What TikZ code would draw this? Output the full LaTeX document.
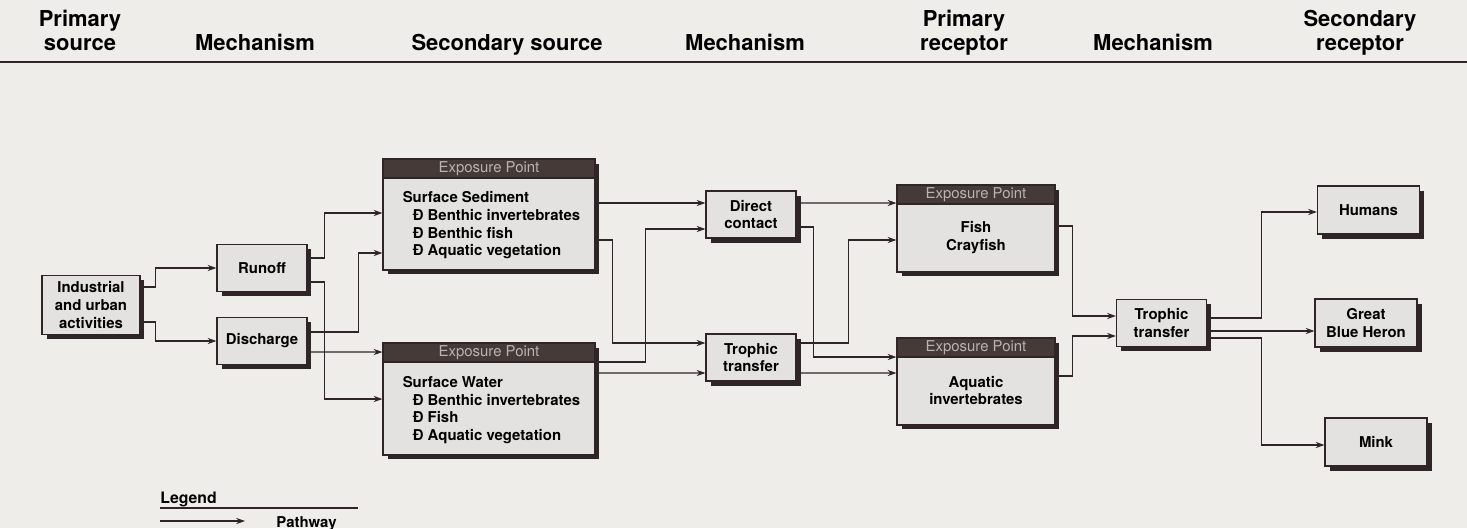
\documentclass[tikz,border=0pt]{standalone}
\usepackage{fontspec}
\setmainfont{TeX Gyre Heros}
\usetikzlibrary{arrows.meta}
\usetikzlibrary{shadows}
\definecolor{ink}{HTML}{2F2427}
\definecolor{paper}{HTML}{EFEDEA}
\definecolor{boxfill}{HTML}{E4E2E0}
\definecolor{band}{HTML}{463A39}
\definecolor{bandtext}{HTML}{B9B3B1}
\newcommand\boxfont[0]{\fontsize{8.5}{10}\selectfont\bfseries}

\begin{document}
\begin{tikzpicture}[x=0.02cm,y=-0.02cm,
  every node/.style={inner sep=0pt},
  colhead/.style={font=\fontsize{12.5}{13.6}\selectfont\bfseries, align=center, anchor=base},
  box/.style={draw=ink, line width=0.7pt, fill=boxfill, font=\boxfont, align=center,
    drop shadow={shadow xshift=0.09cm, shadow yshift=-0.09cm, fill=ink, opacity=1}},
  smallbox/.style={box, minimum width=1.8cm, minimum height=0.94cm},
  recbox/.style={box, minimum width=2.04cm, minimum height=0.96cm},
  bandbox/.style={draw=ink, line width=0.7pt, fill=band, text=bandtext, anchor=north,
    minimum height=0.38cm, font=\fontsize{8.5}{10}\selectfont},
  pathway/.style={draw=ink, line width=0.6pt, -{Stealth[length=5pt,width=3.5pt]}}]

\fill[paper] (0,0) rectangle (1467,528);
\useasboundingbox (0,0) rectangle (1467,528);

% column heads
\node[colhead] (h1) at (80,50) {Primary\\source};
\node[colhead] (h2) at (255,50) {Mechanism};
\node[colhead] (h3) at (507,50) {Secondary source};
\node[colhead] (h4) at (745,50) {Mechanism};
\node[colhead] (h5) at (964,50) {Primary\\receptor};
\node[colhead] (h6) at (1153,50) {Mechanism};
\node[colhead] (h7) at (1360,50) {Secondary\\receptor};
\draw[ink, line width=1.4pt] (0,62) -- (1467,62);

% boxes
\node[box, minimum width=1.96cm, minimum height=1.18cm] (ind) at (91,305) {Industrial\\and urban\\activities};
\node[smallbox] (run) at (262,268) {Runoff};
\node[smallbox] (dis) at (262,341) {Discharge};

\node[box, minimum width=4.24cm, minimum height=2.22cm] (sed) at (489,214.5) {};
\node[bandbox, minimum width=4.24cm] (sedh) at (sed.north) {Exposure Point};
\node[font=\boxfont, align=left, anchor=north west] (sedtxt) at ([xshift=.4cm,yshift=-.66cm]sed.north west)
  {Surface Sediment\\\hspace*{.2cm}Đ Benthic invertebrates\\\hspace*{.2cm}Đ Benthic fish\\\hspace*{.2cm}Đ Aquatic vegetation};

\node[box, minimum width=4.24cm, minimum height=2.24cm] (wat) at (489,399) {};
\node[bandbox, minimum width=4.24cm] (wath) at (wat.north) {Exposure Point};
\node[font=\boxfont, align=left, anchor=north west] (wattxt) at ([xshift=.4cm,yshift=-.68cm]wat.north west)
  {Surface Water\\\hspace*{.2cm}Đ Benthic invertebrates\\\hspace*{.2cm}Đ Fish\\\hspace*{.2cm}Đ Aquatic vegetation};

\node[smallbox] (dir) at (751,214.5) {Direct\\contact};
\node[smallbox] (trm) at (751,357.5) {Trophic\\transfer};

\node[box, minimum width=3.16cm, minimum height=1.74cm] (fish) at (976,228.5) {};
\node[bandbox, minimum width=3.16cm] (fishh) at (fish.north) {Exposure Point};
\node[font=\boxfont, align=center] (fishtxt) at ([yshift=-.18cm]fish.center) {Fish\\Crayfish};

\node[box, minimum width=3.16cm, minimum height=1.74cm] (aq) at (976,381.5) {};
\node[bandbox, minimum width=3.16cm] (aqh) at (aq.north) {Exposure Point};
\node[font=\boxfont, align=center] (aqtxt) at ([yshift=-.18cm]aq.center) {Aquatic\\invertebrates};

\node[smallbox] (trr) at (1161.5,323) {Trophic\\transfer};
\node[recbox] (hum) at (1368.5,210) {Humans};
\node[recbox] (her) at (1366,323) {Great\\Blue Heron};
\node[recbox] (mink) at (1376,442) {Mink};

% pathways
\draw[pathway] ([yshift=.36cm]ind.east) -- ++(15,0) |- (run.west);
\draw[pathway] ([yshift=-.34cm]ind.east) -- ++(15,0) |- (dis.west);
\draw[pathway] ([yshift=.2cm]run.east) -- ++(17,0) |- ([yshift=.03cm]sed.west);
\draw[pathway] ([yshift=-.28cm]run.east) -- ++(17,0) |- (wat.west);
\draw[pathway] ([yshift=.18cm]dis.east) -- ++(51,0) |- ([yshift=-.77cm]sed.west);
\draw[pathway] ([yshift=-.22cm]dis.east) -- ([yshift=.94cm]wat.west);

\draw[pathway] ([yshift=.23cm]sed.east) -- ([yshift=.23cm]dir.west);
\draw[pathway] ([yshift=-.51cm]sed.east) -- ++(17,0) |- ([yshift=.29cm]trm.west);
\draw[pathway] ([yshift=.74cm]wat.east) -- ++(50,0) |- ([yshift=-.29cm]dir.west);
\draw[pathway] ([yshift=.52cm]wat.east) -- ([yshift=-.31cm]trm.west);

\draw[pathway] ([yshift=.23cm]dir.east) -- ([yshift=.51cm]fish.west);
\draw[pathway] ([yshift=-.25cm]dir.east) -- ++(17,0) |- ([yshift=.49cm]aq.west);
\draw[pathway] ([yshift=.29cm]trm.east) -- ++(52,0) |- ([yshift=-.23cm]fish.west);
\draw[pathway] ([yshift=-.31cm]trm.east) -- ([yshift=.17cm]aq.west);

\draw[pathway] ([yshift=.05cm]fish.east) -- ++(17,0) |- ([yshift=.14cm]trr.west);
\draw[pathway] ([yshift=.11cm]aq.east) -- ++(17,0) |- ([yshift=-.26cm]trr.west);

\draw[pathway] ([yshift=.1cm]trr.east) -- ++(54,0) |- ([yshift=-.04cm]hum.west);
\draw[pathway] ([yshift=-.16cm]trr.east) -- ([yshift=-.16cm]her.west);
\draw[pathway] ([yshift=-.3cm]trr.east) -- ++(54,0) |- ([yshift=-.06cm]mink.west);

% legend
\node[font=\fontsize{9}{10}\selectfont\bfseries, anchor=base west] (leg) at (160,503) {Legend};
\draw[ink, line width=.6pt] (leg.base west) ++(0,5) -- ++(198,0);
\coordinate (pa) at (160,521);
\coordinate (pb) at (245,521);
\draw[pathway] (pa) -- (pb);
\node[font=\fontsize{8.5}{10}\selectfont\bfseries, anchor=base west] (pwy) at (276,527) {Pathway};

\end{tikzpicture}
\end{document}
